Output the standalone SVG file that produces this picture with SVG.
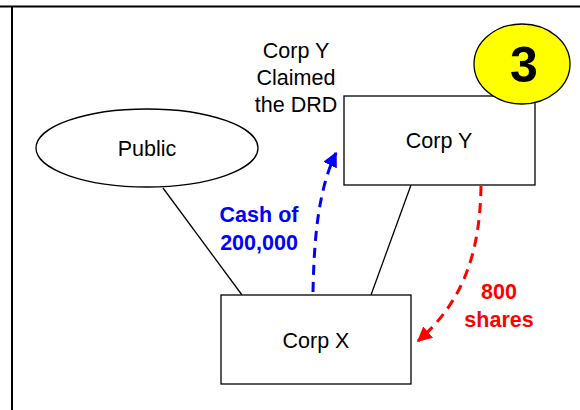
<svg xmlns="http://www.w3.org/2000/svg" width="580" height="410" viewBox="0 0 580 410">
<defs>
<style>
.box{fill:#fff;stroke:#000;stroke-width:1.3}
.t{font-family:"Liberation Sans",Arial,sans-serif;font-size:21.5px;fill:#000;text-anchor:middle}
.lbl{font-family:"Liberation Sans",Arial,sans-serif;font-size:21.5px;font-weight:bold;text-anchor:middle}
.ln{stroke:#000;stroke-width:1.3;fill:none}
.dash{fill:none;stroke-width:3;stroke-dasharray:10,7}
</style>
<marker id="ab" viewBox="0 0 10 10" refX="9" refY="5" markerWidth="5" markerHeight="5" orient="auto" markerUnits="strokeWidth"><path d="M0,0 L10,5 L0,10 z" fill="#0000ff"/></marker>
<marker id="ar" viewBox="0 0 10 10" refX="9" refY="5" markerWidth="5" markerHeight="5" orient="auto" markerUnits="strokeWidth"><path d="M0,0 L10,5 L0,10 z" fill="#ff0000"/></marker>
</defs>
<rect width="580" height="410" fill="#fff"/>
<g id="frame">
<line x1="0" y1="6.5" x2="580" y2="6.5" stroke="#000" stroke-width="2"/>
<line x1="12" y1="6" x2="12" y2="410" stroke="#000" stroke-width="2"/>
</g>
<g id="connectors">
<line class="ln" x1="163" y1="188" x2="242" y2="295"/>
<line class="ln" x1="411" y1="185" x2="371" y2="295"/>
<path class="dash" stroke="#0000ff" d="M313,292 C314,240 318,190 336,153" marker-end="url(#ab)"/>
<path class="dash" stroke="#ff0000" d="M481,186 C480,250 465,300 418,341" marker-end="url(#ar)"/>
</g>
<g id="public">
<ellipse cx="147" cy="148" rx="111" ry="39" class="box"/>
<text class="t" x="147" y="156">Public</text>
</g>
<g id="corpY">
<rect x="344" y="96" width="191" height="89" class="box"/>
<text class="t" x="439" y="148">Corp Y</text>
</g>
<g id="corpX">
<rect x="221" y="295" width="190" height="89" class="box"/>
<text class="t" x="316" y="348">Corp X</text>
</g>
<g id="badge">
<ellipse cx="522" cy="64" rx="48" ry="40" fill="#ffff00" stroke="#000" stroke-width="1.3"/>
<text x="524" y="82" font-family="'Liberation Sans',Arial,sans-serif" font-size="50" font-weight="bold" text-anchor="middle">3</text>
</g>
<g id="note">
<text class="t" x="296" y="58">Corp Y</text>
<text class="t" x="296" y="85">Claimed</text>
<text class="t" x="296" y="112">the DRD</text>
</g>
<g id="labels">
<text class="lbl" x="259" y="222" fill="#0000ff">Cash of</text>
<text class="lbl" x="259" y="250" fill="#0000ff">200,000</text>
<text class="lbl" x="499" y="299" fill="#ff0000">800</text>
<text class="lbl" x="499" y="327" fill="#ff0000">shares</text>
</g>
</svg>
